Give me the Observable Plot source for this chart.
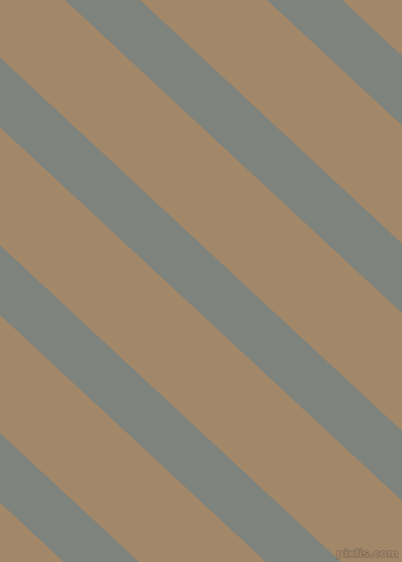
<!DOCTYPE html>
<html>
<head>
<meta charset="utf-8">
<script src="https://cdn.jsdelivr.net/npm/d3@7"></script>
<script src="https://cdn.jsdelivr.net/npm/@observablehq/plot@0.6"></script>
<style>
  html, body { margin: 0; padding: 0; background: #a28769; }
  #chart svg { display: block; }
</style>
</head>
<body>
<div id="chart"></div>
<script>
// Stripe data: x where each gray stripe's left edge meets the top edge
const stripeStarts = [-541, -339, -137, 65, 267];
const stripeWidth = 75;      // horizontal width of a gray stripe
const stripeSlope = 0.929;   // dy/dx of the stripes
const edgeY = [0, 562];      // top and bottom of the picture
const watermark = ["pixlis.com"];

const W = 402, H = 562;
const rows = [];
stripeStarts.forEach((x0, i) => {
  edgeY.forEach(y => {
    rows.push({stripe: i, y, x1: x0 + y / stripeSlope, x2: x0 + stripeWidth + y / stripeSlope});
  });
});

const chart = Plot.plot({
  width: W,
  height: H,
  margin: 0,
  x: {domain: [0, W], range: [0, W], axis: null},
  y: {domain: [0, H], range: [0, H], axis: null},
  style: {background: "#a28769"},
  marks: [
    Plot.frame({fill: "#a28769", stroke: null}),
    Plot.areaX(rows, {y: "y", x1: "x1", x2: "x2", z: "stripe", fill: "#7e837d", curve: "linear", clip: true}),
    Plot.text(watermark, {
      text: d => d,
      frameAnchor: "bottom-right",
      dx: -4, dy: -6,
      fontSize: 11,
      fontWeight: "bold",
      fontFamily: "DejaVu Sans, sans-serif",
      fill: "#a28769",
      stroke: "#6f6252",
      strokeWidth: 1,
      textAnchor: "end"
    })
  ]
});
document.getElementById("chart").appendChild(chart);
</script>
</body>
</html>
